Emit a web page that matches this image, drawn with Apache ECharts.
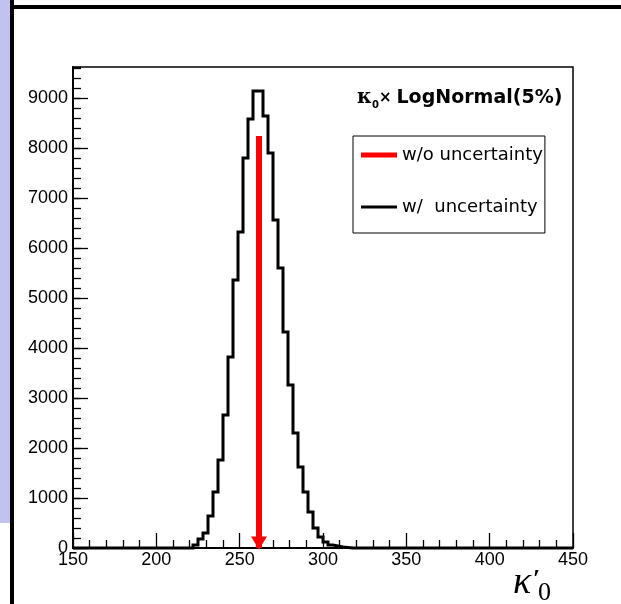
<!DOCTYPE html>
<html><head><meta charset="utf-8">
<script src="https://cdn.jsdelivr.net/npm/echarts@6/dist/echarts.min.js"></script>
<style>html,body{margin:0;padding:0;background:#fff}#c{width:621px;height:604px}</style>
</head><body><div id="c"></div>
<script>
// ---- data ----
const xMin = 150, xMax = 450, xTickStep = 50;
const yMin = 0, yMax = 9620, yTickStep = 1000, yMinorStep = 200;
const binWidth = 3;
const firstBinLow = 222;
const binCounts = [60,180,300,640,1120,1760,2660,3820,5360,6320,7800,8580,9140,9140,8640,7900,6560,5600,4320,3260,2300,1620,1120,720,400,220,120,60,40,20,10];
const nominalValue = 261.6;
const nominalHeight = 8240;
const seriesNames = ['w/o uncertainty', 'w/  uncertainty'];
const titleText = ['κ', '0', '×', 'LogNormal(5%)'];
const axisTitleParts = ['κ', '′', '0'];

// histogram outline points (bin low edges + final upper edge)
const histPoints = [];
const nBins = Math.round((xMax - xMin) / binWidth);
const firstIdx = Math.round((firstBinLow - xMin) / binWidth);
for (let k = 0; k < nBins; k++) {
  const j = k - firstIdx;
  const c = (j >= 0 && j < binCounts.length) ? binCounts[j] : 0;
  histPoints.push([xMin + k * binWidth, c]);
}
histPoints.push([xMax, 0]);

const lab = {fontFamily: 'Liberation Sans, Arial, sans-serif', fontSize: 18, color: '#000', formatter: v => String(v)};
const chart = echarts.init(document.getElementById('c'), null, {renderer: 'canvas'});
chart.setOption({
  animation: false,
  backgroundColor: '#fff',
  grid: {left: 73, top: 67, right: 48, bottom: 56, show: true, borderColor: '#000', borderWidth: 1.5, backgroundColor: 'transparent'},
  xAxis: {
    type: 'value', min: xMin, max: xMax, interval: xTickStep,
    axisLine: {lineStyle: {color: '#000', width: 2}},
    axisTick: {show: true, inside: true, length: 15, lineStyle: {color: '#000', width: 1.3}},
    minorTick: {show: true, splitNumber: 5, length: 8, lineStyle: {color: '#000', width: 1.3}},
    splitLine: {show: false},
    axisLabel: Object.assign({margin: 3}, lab)
  },
  yAxis: [{
    type: 'value', min: yMin, max: yMax, interval: yTickStep,
    axisLine: {show: true, lineStyle: {color: '#000', width: 2}},
    axisTick: {show: true, inside: true, length: 15, lineStyle: {color: '#000', width: 1.3}},
    splitLine: {show: false},
    axisLabel: Object.assign({margin: 5, showMaxLabel: false}, lab)
  }, {
    type: 'value', min: yMin, max: yMax, interval: yMinorStep, position: 'left', offset: 0,
    axisLine: {show: false},
    axisTick: {show: true, inside: true, length: 8, lineStyle: {color: '#000', width: 1.3}},
    splitLine: {show: false},
    axisLabel: {show: false}
  }],
  legend: {
    orient: 'vertical', left: 353, top: 136,
    padding: [7, 2, 14, 8], itemGap: 28, itemWidth: 36, itemHeight: 5,
    borderColor: '#000', borderWidth: 1, backgroundColor: '#fff',
    selectedMode: false,
    textStyle: {fontFamily: 'DejaVu Sans', fontSize: 18, color: '#000', lineHeight: 24},
    data: [
      {name: seriesNames[0], icon: 'rect', itemStyle: {color: '#ff0000'}},
      {name: seriesNames[1], icon: 'path://M0 0H12V1H0Z', itemStyle: {color: '#000'}}
    ]
  },
  title: {
    text: '{k|' + titleText[0] + '}{s|' + titleText[1] + '}{x|' + titleText[2] + '} {b|' + titleText[3] + '}',
    left: 357, top: 86, padding: 0,
    textStyle: {
      rich: {
        k: {fontFamily: 'DejaVu Serif', fontSize: 20, color: '#000', lineHeight: 24, verticalAlign: 'middle'},
        s: {fontFamily: 'DejaVu Sans', fontWeight: 'bold', fontSize: 10, color: '#000', lineHeight: 20, verticalAlign: 'bottom'},
        x: {fontFamily: 'DejaVu Sans', fontSize: 15, color: '#000', lineHeight: 24},
        b: {fontFamily: 'DejaVu Sans', fontWeight: 'bold', fontSize: 19, color: '#000', lineHeight: 24}
      }
    }
  },
  graphic: [
    {type: 'rect', shape: {x: 0, y: 0, width: 10, height: 523}, style: {fill: '#c2c2f0'}, silent: true},
    {type: 'rect', shape: {x: 10, y: 0, width: 4, height: 604}, style: {fill: '#000'}, silent: true},
    {type: 'rect', shape: {x: 14, y: 5, width: 607, height: 4}, style: {fill: '#000'}, silent: true},
    {type: 'text', left: 513, top: 564, style: {text: axisTitleParts[0], font: 'italic 38px "Liberation Serif"', fill: '#000'}, silent: true},
    {type: 'text', left: 533, top: 567, style: {text: axisTitleParts[1], font: 'bold 26px "Liberation Serif"', fill: '#000'}, silent: true},
    {type: 'text', left: 538, top: 580, style: {text: axisTitleParts[2], font: '26px "Liberation Serif"', fill: '#000'}, silent: true}
  ],
  series: [
    {
      name: seriesNames[1], type: 'line', step: 'end', data: histPoints,
      showSymbol: false, symbol: 'none', color: '#000',
      lineStyle: {color: '#000', width: 3, join: 'miter'}, z: 3, clip: false
    },
    {
      name: seriesNames[0], type: 'line', color: '#ff0000',
      data: [
        {value: [nominalValue, nominalHeight], symbol: 'none'},
        {value: [nominalValue, 0], symbol: 'triangle', symbolRotate: 180, symbolSize: [16, 13], symbolOffset: [0, -5]}
      ],
      showSymbol: true, itemStyle: {color: '#ff0000'},
      lineStyle: {color: '#ff0000', width: 6, cap: 'butt'}, z: 4, clip: false
    }
  ]
});
</script></body></html>
